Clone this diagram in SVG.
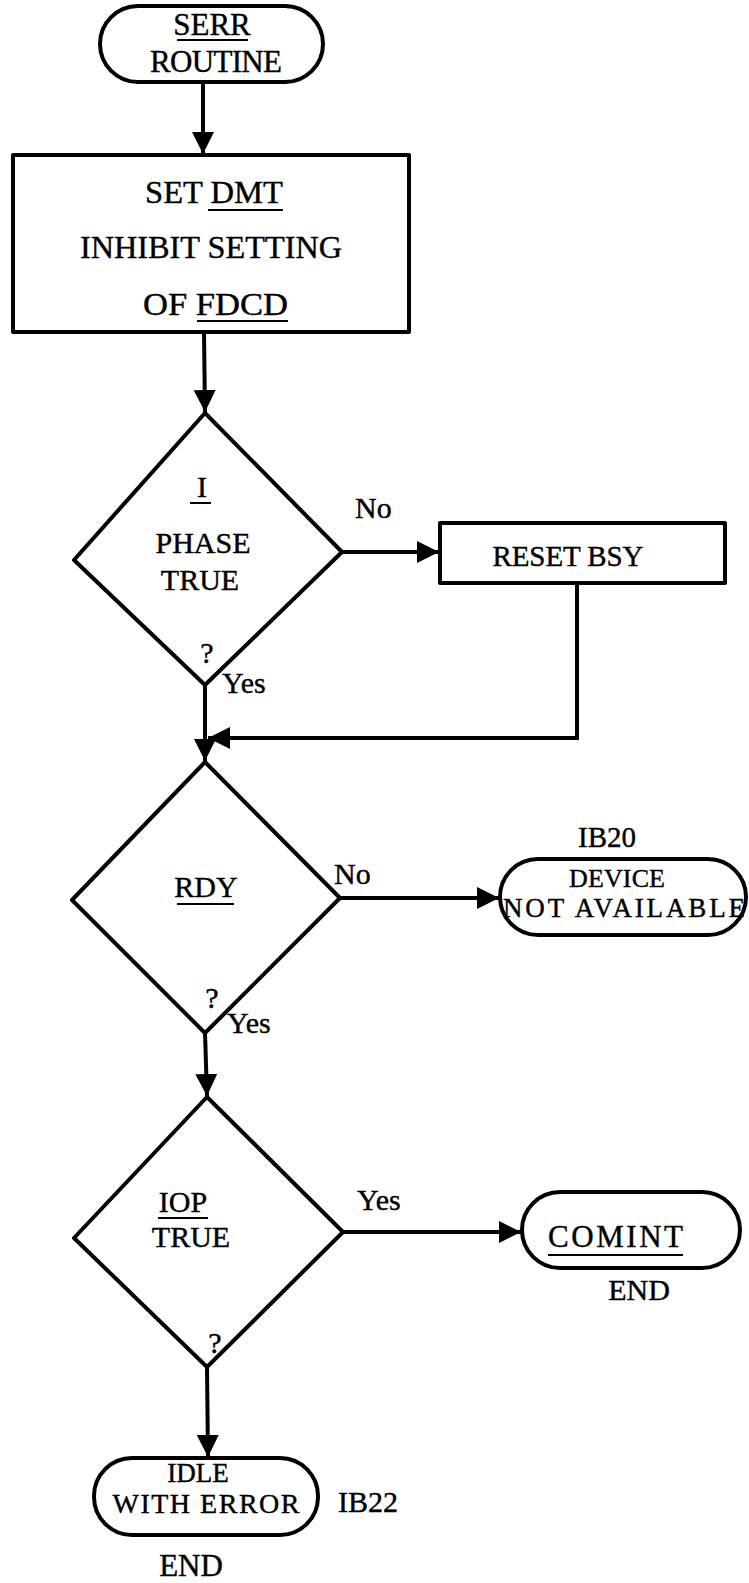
<svg xmlns="http://www.w3.org/2000/svg" width="749" height="1583" viewBox="0 0 749 1583">
<defs>
<marker id="ah" markerUnits="userSpaceOnUse" markerWidth="24" markerHeight="24" viewBox="0 0 24 24" refX="22" refY="12" orient="auto">
<path d="M0,1 L22,12 L0,23 Z" fill="#000"/>
</marker>
<style>
.s{fill:#fff;stroke:#000;stroke-width:4;stroke-linejoin:round}
.c{fill:none;stroke:#000;stroke-width:4}
text{font-family:"Liberation Serif","Times New Roman",serif;fill:#000;stroke:#000;stroke-width:0.4}
.b{font-size:31px}
.d{font-size:30px}
.m{text-anchor:middle}
.u{stroke:#000;stroke-width:2}
</style>
</defs>
<rect width="749" height="1583" fill="#fff"/>
<g id="connectors">
<line class="c" x1="203" y1="82" x2="203" y2="154" marker-end="url(#ah)"/>
<line class="c" x1="204" y1="332" x2="205" y2="412" marker-end="url(#ah)"/>
<line class="c" x1="342" y1="552" x2="439" y2="552" marker-end="url(#ah)"/>
<polyline class="c" points="577,583 577,738 208,738" marker-end="url(#ah)"/>
<line class="c" x1="205" y1="685" x2="205" y2="761" marker-end="url(#ah)"/>
<line class="c" x1="340" y1="898" x2="499" y2="898" marker-end="url(#ah)"/>
<line class="c" x1="205" y1="1033" x2="207" y2="1096" marker-end="url(#ah)"/>
<line class="c" x1="343" y1="1232" x2="521" y2="1232" marker-end="url(#ah)"/>
<line class="c" x1="207" y1="1367" x2="208" y2="1457" marker-end="url(#ah)"/>
</g>
<g id="serr">
<rect class="s" x="100" y="6" width="223" height="76" rx="38"/>
<text class="b m" x="212" y="35">SERR</text>
<line class="u" x1="177" y1="40" x2="248" y2="40"/>
<text class="b m" x="216" y="72" textLength="132">ROUTINE</text>
</g>
<g id="setdmt">
<rect class="s" x="13" y="155" width="396" height="177"/>
<text x="145" y="203" font-size="32" textLength="138" lengthAdjust="spacingAndGlyphs">SET DMT</text>
<line class="u" x1="208" y1="210" x2="283" y2="210"/>
<text x="80" y="258" font-size="32" textLength="262" lengthAdjust="spacingAndGlyphs">INHIBIT SETTING</text>
<text x="143" y="315" font-size="32" textLength="145" lengthAdjust="spacingAndGlyphs">OF FDCD</text>
<line class="u" x1="197" y1="321" x2="288" y2="321"/>
</g>
<g id="phase">
<polygon class="s" points="205,413 342,552 205,685 74,560"/>
<text class="d m" x="202" y="497">I</text>
<line class="u" x1="190" y1="503" x2="211" y2="503"/>
<text class="d m" x="203" y="553">PHASE</text>
<text class="d m" x="200" y="590">TRUE</text>
<text class="d m" x="207" y="663" font-size="28">?</text>
<text class="d" x="222" y="693">Yes</text>
<text class="d" x="355" y="518">No</text>
</g>
<g id="resetbsy">
<rect class="s" x="440" y="523" width="285" height="60"/>
<text class="m" x="568" y="566" font-size="29" textLength="151">RESET BSY</text>
</g>
<g id="rdy">
<polygon class="s" points="205,762 340,898 205,1033 72,900"/>
<text class="d m" x="206" y="897">RDY</text>
<line class="u" x1="177" y1="904" x2="234" y2="904"/>
<text class="d m" x="212" y="1008" font-size="28">?</text>
<text class="d" x="227" y="1033">Yes</text>
<text class="d" x="334" y="884">No</text>
</g>
<g id="devna">
<rect class="s" x="500" y="859" width="246" height="76" rx="38"/>
<text class="m" x="607" y="847" font-size="29">IB20</text>
<text class="m" x="617" y="887" font-size="26" textLength="96">DEVICE</text>
<text x="503" y="917" font-size="27" textLength="242">NOT AVAILABLE</text>
</g>
<g id="iop">
<polygon class="s" points="207,1097 343,1232 207,1367 74,1238"/>
<text class="d m" x="183" y="1212">IOP</text>
<line class="u" x1="158" y1="1218" x2="208" y2="1218"/>
<text class="d m" x="191" y="1247">TRUE</text>
<text class="d m" x="215" y="1353" font-size="28">?</text>
<text class="d" x="357" y="1210">Yes</text>
</g>
<g id="comint">
<rect class="s" x="522" y="1192" width="218" height="76" rx="38"/>
<text x="548" y="1247" font-size="31" textLength="135">COMINT</text>
<line class="u" x1="548" y1="1255" x2="683" y2="1255"/>
<text class="m" x="639" y="1300" font-size="30">END</text>
</g>
<g id="idle">
<rect class="s" x="94" y="1458" width="224" height="77" rx="38"/>
<text class="m" x="198" y="1482" font-size="27">IDLE</text>
<text class="m" x="206" y="1513" font-size="28" textLength="187">WITH ERROR</text>
<text x="338" y="1512" font-size="30">IB22</text>
<text class="m" x="191" y="1576" font-size="31">END</text>
</g>
</svg>
